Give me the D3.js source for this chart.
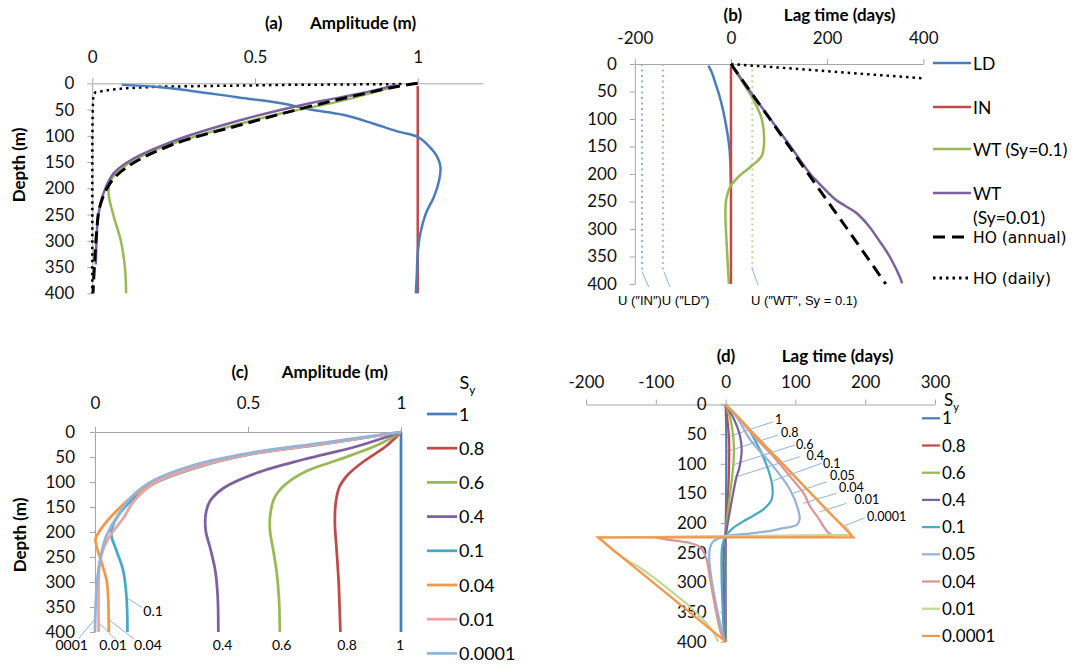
<!DOCTYPE html>
<html>
<head>
<meta charset="utf-8">
<script src="https://cdn.jsdelivr.net/npm/d3@7"></script>
<style>
  body { margin: 0; background: #fff; }
  svg { display: block; font-family: Lato, "Open Sans", sans-serif; }
</style>
</head>
<body>
<svg id="fig" width="1074" height="664"></svg>
<script>
// ---------- data: [x value, depth (m)] ----------
// (a) amplitude (m)
const aLD = [[0.09,3],[0.2,7],[0.3,14],[0.45,27],[0.58,38],[0.67,50],[0.77,60],[0.86,76],[0.94,92],[1.0,102],[1.035,120],[1.06,140],[1.07,160],[1.066,184],[1.05,216],[1.025,248],[1.008,286],[1.0,324],[0.997,368],[0.994,400]];
const aIN = [[1,5],[1,400]];
const aWT1 = [[0.944,3],[0.775,32],[0.563,60],[0.351,95],[0.193,127],[0.097,159],[0.055,187],[0.05,210],[0.066,254],[0.087,298],[0.1,349],[0.104,400]];
const aWT01 = [[0.933,3],[0.82,20],[0.669,38],[0.457,70],[0.245,111],[0.119,146],[0.066,171],[0.034,210],[0.018,254],[0.013,298],[0.011,345]];
const aHOann = [[1.0,0],[0.93,7],[0.669,44],[0.457,79],[0.245,117],[0.108,159],[0.055,190],[0.023,235],[0.013,286],[0.007,343],[0.002,400]];
const aHOday = [[0.95,1.5],[0.6,3],[0.2,6.5],[0.1,9.5],[0.05,13],[0.01,17],[0.003,22],[0.001,60],[0,120],[0,400]];

// (b) lag time (days)
const bLD = [[-47,3],[-40,15],[-33,33],[-25,55],[-18,78],[-12,103],[-7,128],[-3,155],[-1,185],[0,220]];
const bIN = [[0,5],[0,400]];
const bWT1 = [[0,0],[24,33],[46,64],[64,100],[69,137],[64,167],[42,186],[17,204],[-1,222],[-10,247],[-11.5,277],[-9.3,320],[-6.5,368],[-4.3,400]];
const bWT01 = [[0,0],[40,50],[82,100],[124,150],[165,200],[182,216],[218,247],[261,271],[287,295],[312,326],[330,350],[351,387],[356,399]];
const bHOann = [[0,0],[81,100],[161,200],[242,300],[322,400]];
const bHOday = [[0,0],[398,26]];
const bUdays = [-185, -141.5, 44.5];          // U("IN"), U("LD"), U("WT", Sy=0.1)
const bUdepth = [0, 380];
const bNotes = [["U (\u2033IN\u2033)U (\u2033LD\u2033)", -235, 438], ["U (\u2033WT\u2033, Sy = 0.1)", 41.6, 438]];
const bLeaders = [[-185,377.6,-170.8,405.5],[-139.4,377.6,-126.9,405.5],[43.7,370.9,56.2,401.8]];

// (c) amplitude by Sy
const cSy = ["1","0.8","0.6","0.4","0.1","0.04","0.01","0.0001"];
const c1 = [[1,0],[1,400]];
const c08 = [[1,0],[0.951,28.5],[0.880,58],[0.827,85],[0.798,111],[0.786,145],[0.784,184],[0.789,231],[0.796,297],[0.80,363],[0.802,400]];
const c06 = [[1,0],[0.927,25],[0.798,55],[0.692,78],[0.622,105],[0.587,131],[0.573,164],[0.572,198],[0.581,231],[0.593,277],[0.601,330],[0.604,400]];
const c04 = [[1,0],[0.857,28.5],[0.681,55],[0.528,82],[0.423,111],[0.376,138],[0.362,164],[0.362,198],[0.376,231],[0.393,277],[0.401,330],[0.403,400]];
const c01 = [[1,0],[0.739,25],[0.505,45],[0.329,72],[0.188,105],[0.106,145],[0.065,178],[0.053,204],[0.070,237],[0.092,277],[0.103,330],[0.106,400]];
const c004 = [[1,0],[0.74,24],[0.51,44],[0.33,70],[0.2,99],[0.13,125],[0.07,158],[0.023,191],[0.002,214],[0.006,231],[0.023,264],[0.038,297],[0.043,330],[0.045,400]];
const c001 = [[1,0],[0.74,24],[0.51,44],[0.33,71],[0.19,104],[0.125,140],[0.094,171],[0.053,204],[0.029,231],[0.015,264],[0.012,304],[0.012,400]];
const c00001 = [[1,0],[0.739,22],[0.505,42],[0.329,65],[0.188,98],[0.117,131],[0.070,171],[0.035,211],[0.018,251],[0.007,297],[0.002,350],[0,400]];
const cNotes = [["0001",-0.076,436],["0.01",0.059,436],["0.04",0.173,436],["0.4",0.417,436],["0.6",0.610,436],["0.8",0.824,436],["1",0.997,436],["0.1",0.19,368]];
const cLeaders = [[0.106,332.6,0.153,350.6],[0.044,374.6,0.129,414.6],[0.015,382.6,0.070,416],[0.002,372.6,-0.053,412.6]];

// (d) lag time by Sy
const dSy = ["1","0.8","0.6","0.4","0.1","0.05","0.04","0.01","0.0001"];
const d1 = [[0,0],[1,50],[1,120],[0.5,180],[0,222],[0,400]];
const d08 = [[0,0],[3,30],[5,60],[5,100],[4,140],[2,180],[0,222],[-1,260],[-1,320],[0,400]];
const d06 = [[0,0],[7,25],[11,55],[12,80],[10,115],[6,155],[2,195],[0,222],[-2,250],[-2,300],[-1,360],[0,400]];
const d04 = [[0,0],[12,25],[20,50],[23,75],[20,105],[15,125],[10,155],[4,194],[0,222],[-3,256],[-2.4,313],[-1,400]];
const d01 = [[0,0],[30,37],[49,76],[61,110],[67,138],[66,160],[54,177],[30,194],[11,208],[0,222],[-4.8,239],[-5.7,285],[-4.3,341],[-2,400]];
const d005 = [[0,0],[18,25],[35,59],[68,104],[92,143],[104,177],[106,194],[102,203],[80,209],[59,214],[30,218],[0,222],[-17.7,231],[-22.4,242],[-23.4,262],[-20,296],[-13,341],[-5.7,380],[-1,400]];
const d004 = [[0,0],[20,25],[42,55],[70,90],[95,125],[112,150],[121,172],[132,190],[140,205],[147,216],[155,222],[-100,223.5],[-94,226],[-75,229],[-50,234],[-37,240],[-28,258],[-22,296],[-15,341],[-8,380],[-2,400]];
const d001 = [[0,0],[40,49],[82,100],[122,150],[160,196],[173,208],[180,220],[-180,224.5],[-156,251],[-118,279],[-80,313],[-51,341],[-32,363],[-18,383],[-10.5,400]];
const d00001 = [[0,0],[183,224],[-183,224],[0,400]];
const dLeaders = [[68.2,29.0,0,56.0],[75.4,51.4,1.4,79.6],[99.3,68.3,10,102],[106.4,88,15.8,121.8],[137.5,99.2,68.2,128.5],[144.7,130.2,96.8,149.7],[159,149.7,111.2,166.6],[173.4,166.6,135.1,180.8],[199.6,190.9,170.9,204.4]];
const dNotes = [[70.8,32.5],[79.4,55.1],[100.9,74.2],[115.9,94.4],[139.5,107.9],[149.6,126.5],[162.5,147.2],[184.7,167],[202.6,196.8]];

// axis ticks
const depthTicks = d3.range(0, 401, 50);
const ampTicks = [0, 0.5, 1];
const lagTicksB = [-200, 0, 200, 400];
const lagTicksD = [-200, -100, 0, 100, 200, 300];

// ---------- styles ----------
const C = {
  blue: "#4A7EBB", red: "#BE4B48", green: "#98B954", purple: "#7D60A0",
  teal: "#46AAC5", orange: "#F79646", pinkC: "#E6A5A4", pinkD: "#D99694",
  lblue: "#95B3D7", lgreen: "#C3D69B", axis: "#a6a6a6", leader: "#8DB3E2"
};
const svg = d3.select("#fig");
const smooth = d3.curveCatmullRom.alpha(0.5);

function drawAxes(x, y, xTicks, yAt, xPad, yPad) {
  const gx = svg.append("g")
    .attr("transform", `translate(0,${y(0)})`)
    .call(d3.axisTop(x).tickValues(xTicks).tickSize(5).tickSizeOuter(0).tickPadding(xPad).tickFormat(d => String(d)));
  const gy = svg.append("g")
    .attr("transform", `translate(${x(yAt)},0)`)
    .call(d3.axisLeft(y).tickValues(depthTicks).tickSize(5).tickSizeOuter(0).tickPadding(yPad).tickFormat(d => String(d)));
  [gx, gy].forEach(g => {
    g.attr("font-family", null).attr("font-size", null);
    g.selectAll("path, line").attr("stroke", C.axis);
    g.selectAll("text").attr("fill", "#111").style("font-size", "17px");
  });
}

// split a series where the lag wraps around (big jump), so the smooth curve does not loop
function pieces(data) {
  const out = [[data[0]]];
  for (let i = 1; i < data.length; i++) {
    if (Math.abs(data[i][0] - data[i - 1][0]) > 100) {
      out.push([data[i - 1], data[i]]);
      out.push([data[i]]);
    } else {
      out[out.length - 1].push(data[i]);
    }
  }
  return out;
}

function drawLine(x, y, data, color, width, dash, curve) {
  const gen = d3.line().x(d => x(d[0])).y(d => y(d[1])).curve(curve || smooth);
  const dStr = (curve ? [data] : pieces(data)).map(p => gen(p)).join("");
  svg.append("path")
    .attr("fill", "none")
    .attr("stroke", color)
    .attr("stroke-width", width)
    .attr("stroke-dasharray", dash || null)
    .attr("d", dStr);
}

function title(xp, yp, tag, label) {
  const t = svg.append("text").attr("y", yp).style("font-weight", "bold").style("font-size", "17px");
  t.append("tspan").attr("x", xp[0]).text(tag);
  t.append("tspan").attr("x", xp[1]).text(label);
}

function depthLabel(xp, yp) {
  svg.append("text")
    .attr("transform", `translate(${xp},${yp}) rotate(-90)`)
    .attr("text-anchor", "middle")
    .style("font-weight", "bold").style("font-size", "17px")
    .text("Depth (m)");
}

function leaders(x, y, list) {
  list.forEach(l => {
    svg.append("line")
      .attr("x1", x(l[0])).attr("y1", y(l[1]))
      .attr("x2", x(l[2])).attr("y2", y(l[3]))
      .attr("stroke", C.leader).attr("stroke-width", 1);
  });
}

function syTitle(xp, yp, size) {
  const t = svg.append("text").attr("x", xp).attr("y", yp).style("font-size", size + "px");
  t.append("tspan").text("S");
  t.append("tspan").attr("dy", 5).style("font-size", (size * 0.65) + "px").text("y");
}

// ---------- (a) ----------
const xA = d3.scaleLinear().domain([0, 1.2]).range([92.3, 482.8]);
const yA = d3.scaleLinear().domain([0, 400]).range([83.3, 293.3]);
drawAxes(xA, yA, ampTicks, 0, 15, 13);
title([265, 310], 29, "(a)", "Amplitude (m)");
depthLabel(25, 165);
drawLine(xA, yA, aHOday, "#000", 2.5, "2.5,4", d3.curveLinear);
drawLine(xA, yA, aIN, C.red, 2.5);
drawLine(xA, yA, aLD, C.blue, 2.5);
drawLine(xA, yA, aWT1, C.green, 2.5);
drawLine(xA, yA, aWT01, C.purple, 2.5);
drawLine(xA, yA, aHOann, "#000", 3, "12,6");

// ---------- (b) ----------
const xB = d3.scaleLinear().domain([-200, 400]).range([634.8, 923.3]);
const yB = d3.scaleLinear().domain([0, 400]).range([64, 284]);
drawAxes(xB, yB, lagTicksB, -200, 15, 13);
title([723.6, 783.8], 21, "(b)", "Lag time (days)");
const uColors = [C.lblue, C.pinkC, C.lgreen];
bUdays.forEach((u, i) => {
  drawLine(xB, yB, bUdepth.map(d => [u, d]), uColors[i], 2, "2,3.5", d3.curveLinear);
});
leaders(xB, yB, bLeaders);
bNotes.forEach(n => {
  svg.append("text").attr("x", xB(n[1])).attr("y", yB(n[2]))
    .style("font-family", "'Liberation Sans', Arial, sans-serif").style("font-size", "13px")
    .text(n[0]);
});
drawLine(xB, yB, bHOday, "#000", 2.5, "2.5,4", d3.curveLinear);
drawLine(xB, yB, bLD, C.blue, 2.5);
drawLine(xB, yB, bIN, C.red, 2.5);
drawLine(xB, yB, bWT1, C.green, 2.5);
drawLine(xB, yB, bWT01, C.purple, 2.5);
drawLine(xB, yB, bHOann, "#000", 3, "12,7", d3.curveLinear);

const bLegend = [
  { label: "LD", y: 63, color: C.blue },
  { label: "IN", y: 107, color: C.red },
  { label: "WT (Sy=0.1)", y: 149, color: C.green },
  { label: "WT", y: 193, color: C.purple, extra: "(Sy=0.01)" },
  { label: "HO (annual)", y: 237, color: "#000", dash: "12,7", ho: true },
  { label: "HO (daily)", y: 278, color: "#000", dash: "2.5,4", ho: true }
];
bLegend.forEach(d => {
  svg.append("line").attr("x1", 933).attr("x2", d.ho ? 968 : 971).attr("y1", d.y).attr("y2", d.y)
    .attr("stroke", d.color).attr("stroke-width", d.ho ? 3 : 2.5).attr("stroke-dasharray", d.dash || null);
  svg.append("text").attr("x", 973).attr("y", d.y + (d.ho ? 5.5 : 6.5))
    .style("font-size", d.ho ? "15.5px" : "17.5px")
    .style("font-family", d.ho ? "'DejaVu Sans', sans-serif" : null)
    .text(d.label);
  if (d.extra) {
    svg.append("text").attr("x", 973).attr("y", d.y + 30.5).style("font-size", "17.5px").text(d.extra);
  }
});

// ---------- (c) ----------
const xC = d3.scaleLinear().domain([0, 1]).range([95, 401]);
const yC = d3.scaleLinear().domain([0, 400]).range([432, 632]);
drawAxes(xC, yC, ampTicks, 0, 18, 15);
title([231.5, 281.8], 378, "(c)", "Amplitude (m)");
depthLabel(26, 535);
const cSeries = [c1, c08, c06, c04, c01, c004, c001, c00001];
const cColors = [C.blue, C.red, C.green, C.purple, C.teal, C.orange, C.pinkC, C.lblue];
leaders(xC, yC, cLeaders);
cSeries.forEach((s, i) => drawLine(xC, yC, s, cColors[i], 2.75));
cNotes.forEach(n => {
  svg.append("text").attr("x", xC(n[1])).attr("y", yC(n[2]))
    .attr("text-anchor", "middle").style("font-size", "14px").text(n[0]);
});
syTitle(459.6, 389, 18);
cSy.forEach((s, i) => {
  const yy = 414 + i * 34.2;
  svg.append("line").attr("x1", 427).attr("x2", 457).attr("y1", yy).attr("y2", yy)
    .attr("stroke", cColors[i]).attr("stroke-width", 2.75);
  svg.append("text").attr("x", 459).attr("y", yy + 6.5).style("font-size", "18px").text(s);
});

// ---------- (d) ----------
const xD = d3.scaleLinear().domain([-200, 300]).range([586, 935]);
const yD = d3.scaleLinear().domain([0, 400]).range([404.5, 641.7]);
drawAxes(xD, yD, lagTicksD, 0, 12, 14);
title([716.7, 781.7], 362, "(d)", "Lag time (days)");
const dSeries = [d1, d08, d06, d04, d01, d005, d004, d001, d00001];
const dColors = [C.blue, C.red, C.green, C.purple, C.teal, C.lblue, C.pinkD, C.lgreen, C.orange];
leaders(xD, yD, dLeaders);
dSeries.forEach((s, i) => drawLine(xD, yD, s, dColors[i], 2.25, null, i === 8 ? d3.curveLinear : null));
dNotes.forEach((n, i) => {
  svg.append("text").attr("x", xD(n[0])).attr("y", yD(n[1]))
    .style("font-size", "12.5px").text(dSy[i]);
});
syTitle(944, 406, 17);
dSy.forEach((s, i) => {
  const yy = 418.3 + i * 27.2;
  svg.append("line").attr("x1", 922).attr("x2", 940).attr("y1", yy).attr("y2", yy)
    .attr("stroke", dColors[i]).attr("stroke-width", 2.25);
  svg.append("text").attr("x", 942).attr("y", yy + 6).style("font-size", "17px").text(s);
});
</script>
</body>
</html>
